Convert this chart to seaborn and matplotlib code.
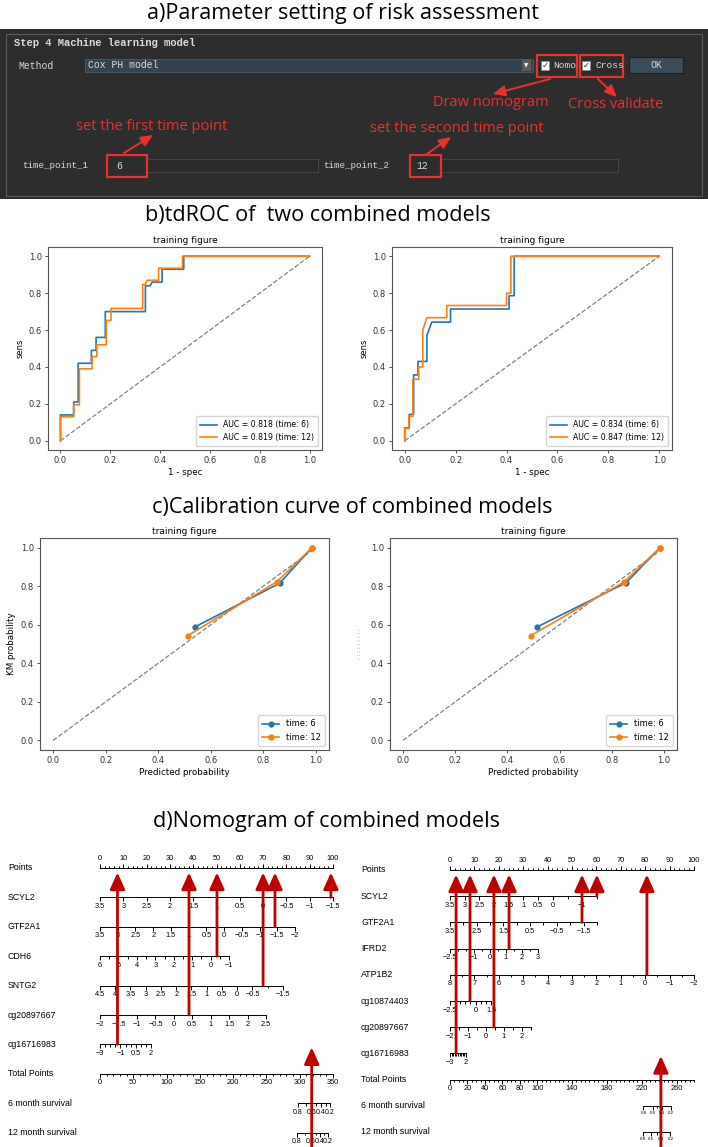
import matplotlib
matplotlib.use("Agg")
import matplotlib.pyplot as plt
from matplotlib.patches import Rectangle
import numpy as np
import seaborn as sns

W, H = 708, 1147
BLUE, ORANGE = "#1f77b4", "#ff7f0e"
RED = "#e8322d"
ARROW_RED = "#c00000"
SANS = "Liberation Sans"
TITLE_FONT = "Open Sans"

# ---------------- b) tdROC curves (read off the picture)
times = [6, 12]
diag = [0, 1]
roc_l_fpr_6 = [0, 0, 0.053, 0.053, 0.071, 0.071, 0.124, 0.124, 0.143, 0.143, 0.18, 0.18,
               0.341, 0.341, 0.36, 0.368, 0.408, 0.408, 0.495, 0.495, 1.0]
roc_l_tpr_6 = [0, 0.14, 0.14, 0.21, 0.21, 0.42, 0.42, 0.49, 0.49, 0.56, 0.56, 0.70,
               0.70, 0.84, 0.84, 0.86, 0.86, 0.93, 0.93, 1.0, 1.0]
roc_l_fpr_12 = [0, 0, 0.053, 0.053, 0.076, 0.076, 0.127, 0.127, 0.146, 0.146, 0.184, 0.184,
                0.203, 0.203, 0.33, 0.33, 0.34, 0.348, 0.394, 0.394, 0.49, 0.49, 1.0]
roc_l_tpr_12 = [0, 0.13, 0.13, 0.195, 0.195, 0.39, 0.39, 0.456, 0.456, 0.52, 0.52, 0.652,
                0.652, 0.717, 0.717, 0.847, 0.847, 0.87, 0.87, 0.935, 0.935, 1.0, 1.0]
roc_r_fpr_6 = [0, 0, 0.018, 0.018, 0.035, 0.035, 0.052, 0.052, 0.087, 0.087, 0.106, 0.18,
               0.18, 0.41, 0.41, 0.43, 0.43, 1.0]
roc_r_tpr_6 = [0, 0.07, 0.07, 0.143, 0.143, 0.357, 0.357, 0.43, 0.43, 0.57, 0.643, 0.643,
               0.714, 0.714, 0.786, 0.786, 1.0, 1.0]
roc_r_fpr_12 = [0, 0, 0.016, 0.016, 0.032, 0.032, 0.055, 0.055, 0.071, 0.071, 0.087, 0.165,
                0.165, 0.40, 0.40, 0.417, 0.417, 1.0]
roc_r_tpr_12 = [0, 0.067, 0.067, 0.133, 0.133, 0.333, 0.333, 0.40, 0.40, 0.60, 0.667, 0.667,
                0.733, 0.733, 0.80, 0.80, 1.0, 1.0]
auc_left = [0.818, 0.819]
auc_right = [0.834, 0.847]

# ---------------- c) calibration points
cal_l_pred_6 = [0.539, 0.862, 0.985]
cal_l_km_6 = [0.588, 0.815, 1.0]
cal_l_pred_12 = [0.513, 0.851, 0.985]
cal_l_km_12 = [0.544, 0.822, 1.0]
cal_r_pred_6 = [0.513, 0.855, 0.985]
cal_r_km_6 = [0.588, 0.818, 1.0]
cal_r_pred_12 = [0.49, 0.845, 0.985]
cal_r_km_12 = [0.544, 0.82, 1.0]

# ---------------- d) nomograms
nl_vars = ["SCYL2", "GTF2A1", "CDH6", "SNTG2", "cg20897667", "cg16716983"]
nl_start = [3.5, 3.5, 6, 4.5, -2, -3]          # value at 0 points
nl_end = [-1.5, -2, -1, -1.5, 2.5, 2]          # value at end of scale
nl_maxpts = [100, 83.7, 55.4, 78.5, 71.3, 21.9]
nl_labels = [[3.5, 3, 2.5, 2, 1.5, 1, 0.5, 0, -0.5, -1, -1.5],
             [3.5, 3, 2.5, 2, 1.5, 1, 0.5, 0, -0.5, -1, -1.5, -2],
             [6, 5, 4, 3, 2, 1, 0, -1],
             [4.5, 4, 3.5, 3, 2.5, 2, 1.5, 1, 0.5, 0, -0.5, -1.5],
             [-2, -1.5, -1, -0.5, 0, 0.5, 1, 1.5, 2, 2.5],
             [-3, -1, 0.5, 2]]
nl_total_max = 350
nl_total_labels = [0, 50, 100, 150, 200, 250, 300, 350]
nl_surv_vals = [0.8, 0.7, 0.6, 0.5, 0.4, 0.3, 0.2]
nl_surv6_at = [297, 309, 318, 325, 332, 339, 345]
nl_surv12_at = [296, 308, 317, 324, 330, 336, 342]
nl_arrow_pts = [7.5, 38.2, 50.2, 70, 75.1, 99.1]
nl_arrow_var = ["cg16716983", "cg20897667", "CDH6", "SNTG2", "GTF2A1", "SCYL2"]
nl_total = 318

nr_vars = ["SCYL2", "GTF2A1", "IFRD2", "ATP1B2", "cg10874403", "cg20897667", "cg16716983"]
nr_start = [3.5, 3.5, -2.5, 8, -2.5, -2, -3]
nr_end = [-1.5, -2, 3, -2, 1.5, 2.5, 2]
nr_maxpts = [60.2, 60.2, 36, 100, 16.8, 33, 6.6]
nr_labels = [[3.5, 3, 2.5, 2, 1.5, 1, 0.5, 0, -1],
             [3.5, 2.5, 1.5, 0.5, -0.5, -1.5],
             [-2.5, -1, 0, 1, 2, 3],
             [8, 7, 6, 5, 4, 3, 2, 1, 0, -1, -2],
             [-2.5, 0, 1.5],
             [-2, -1, 0, 1, 2],
             [-3, 2]]
nr_total_max = 280
nr_total_labels = [0, 20, 40, 60, 80, 100, 140, 180, 220, 260]
nr_surv_vals = [0.8, 0.6, 0.5, 0.4, 0.2]
nr_surv6_at = [222, 233, 238, 243, 254]
nr_surv12_at = [221, 231, 237, 242, 253]
nr_arrow_pts = [2.5, 8.2, 18, 24.2, 54.1, 60.2, 80.7]
nr_arrow_var = ["cg16716983", "cg10874403", "cg20897667", "IFRD2", "GTF2A1", "SCYL2", "ATP1B2"]
nr_total = 242

fig = plt.figure(figsize=(W / 100, H / 100), dpi=100)


def px_axes(x0, y0, x1, y1, **kw):
    return fig.add_axes([x0 / W, 1 - y1 / H, (x1 - x0) / W, (y1 - y0) / H], **kw)


def fmt(v):
    return f"{v:g}".replace("-", "\u2212")


# ---------------- background layer: titles and the GUI screenshot
bg = px_axes(0, 0, W, H, zorder=-5)
bg.set_xlim(0, W)
bg.set_ylim(H, 0)
bg.axis("off")

for x, y, t in [(147, 14, "a)Parameter setting of risk assessment"),
                (145, 216, "b)tdROC of  two combined models"),
                (152, 507, "c)Calibration curve of combined models"),
                (153, 822, "d)Nomogram of combined models")]:
    bg.text(x, y, t, ha="left", va="center", fontsize=15.6, family=TITLE_FONT)

GUI_TXT = "#dcdcdc"
MONO = "Liberation Mono"
bg.add_patch(Rectangle((0, 29), W, 170, fc="#2d2d2d", ec="none"))
bg.add_patch(Rectangle((6, 34), 696, 162, fill=False, ec="#5a5a5a", lw=0.8))
bg.text(14, 43, "Step 4 Machine learning model", fontsize=7.6, family=MONO, color=GUI_TXT,
        va="center", weight="bold")
bg.text(18, 66, "Method", fontsize=7, family=MONO, color=GUI_TXT, va="center")
bg.add_patch(Rectangle((85, 59), 448, 13, fc="#33434f", ec="#4d5d69", lw=0.6))
bg.text(88, 65.5, "Cox PH model", fontsize=7, family=MONO, color=GUI_TXT, va="center")
bg.add_patch(Rectangle((522, 60), 9, 11, fc="#5a5a5a", ec="none"))
bg.text(526.5, 65.5, "\u25bc", fontsize=4, color="white", ha="center", va="center")
for bx, tx, t in [(541, 553, "Nomo"), (582, 595, "Cross")]:
    bg.add_patch(Rectangle((bx, 61), 8, 9, fc="white", ec="#888", lw=0.5))
    bg.text(bx + 4, 65.5, "\u2713", fontsize=6, color="#222", ha="center", va="center")
    bg.text(tx, 65.5, t, fontsize=6.8, family=MONO, color=GUI_TXT, va="center")
bg.add_patch(Rectangle((537, 55), 40, 22, fill=False, ec=RED, lw=1.6))
bg.add_patch(Rectangle((580, 55), 43, 22, fill=False, ec=RED, lw=1.6))
bg.add_patch(Rectangle((629, 57), 54, 16, fc="#3a4b59", ec="#1e1e1e", lw=0.8))
bg.text(656, 65, "OK", fontsize=7, family=MONO, color=GUI_TXT, ha="center", va="center")

# time point fields
bg.text(22, 166, "time_point_1", fontsize=6.6, family=MONO, color=GUI_TXT, va="center")
bg.add_patch(Rectangle((147, 159), 171, 13, fc="#2a2a2a", ec="#4a4a4a", lw=0.6))
bg.text(116, 166, "6", fontsize=7, family=MONO, color=GUI_TXT, va="center")
bg.add_patch(Rectangle((107, 155), 40, 22, fill=False, ec=RED, lw=1.6))
bg.text(323, 166, "time_point_2", fontsize=6.6, family=MONO, color=GUI_TXT, va="center")
bg.add_patch(Rectangle((441, 159), 177, 13, fc="#2a2a2a", ec="#4a4a4a", lw=0.6))
bg.text(416, 166, "12", fontsize=7, family=MONO, color=GUI_TXT, va="center")
bg.add_patch(Rectangle((410, 155), 31, 22, fill=False, ec=RED, lw=1.6))

red_arrow = dict(arrowstyle="-|>,head_length=0.9,head_width=0.4", color=RED, lw=1.4,
                 mutation_scale=8, shrinkA=0, shrinkB=0)
for (x0, y0), (x1, y1) in [((550, 79), (493, 94)), ((598, 79), (617, 97)),
                           ((124, 153), (153, 135)), ((427, 154), (451, 137))]:
    bg.annotate("", xy=(x1, y1), xytext=(x0, y0), arrowprops=red_arrow)
for x, y, t in [(491, 103, "Draw nomogram"), (616, 105, "Cross validate"),
                (152, 127, "set the first time point"), (457, 128, "set the second time point")]:
    bg.text(x, y, t, ha="center", va="center", fontsize=10.5, color=RED, family=TITLE_FONT)


# ---------------- b) and c) matplotlib-style panels
def style_axes(ax):
    ax.set_xticks(np.arange(0, 1.01, 0.2))
    ax.set_yticks(np.arange(0, 1.01, 0.2))
    ax.tick_params(labelsize=6, length=2.5, width=0.6, pad=2, colors="#333")
    for sp in ax.spines.values():
        sp.set_color("#555")
        sp.set_linewidth(0.8)
    ax.set_title("training figure", fontsize=6.5, pad=3)


def draw_roc(ax, curves, aucs):
    ax.plot(diag, diag, ls="--", color="gray", lw=0.9)
    for (fpr, tpr), auc, t, c in zip(curves, aucs, times, [BLUE, ORANGE]):
        sns.lineplot(x=fpr, y=tpr, sort=False, estimator=None, color=c, lw=1.2, ax=ax,
                     label=f"AUC = {auc:.3f} (time: {t})")
    style_axes(ax)
    ax.set_xlabel("1 - spec", fontsize=6.3, labelpad=2)
    ax.set_ylabel("sens", fontsize=6, labelpad=3)
    ax.legend(loc="lower right", fontsize=5.6, handlelength=2.2, borderpad=0.5)


def draw_cal(ax, curves, ylabel):
    ax.plot(diag, diag, ls="--", color="gray", lw=0.9)
    for (p, k), t, c in zip(curves, times, [BLUE, ORANGE]):
        sns.lineplot(x=p, y=k, sort=False, estimator=None, color=c, lw=1.2, marker="o",
                     markersize=4.5, markeredgewidth=0, ax=ax, label=f"time: {t}")
    style_axes(ax)
    ax.set_xlabel("Predicted probability", fontsize=6.3, labelpad=2)
    ax.set_ylabel(ylabel, fontsize=6.3, labelpad=3)
    ax.legend(loc="lower right", fontsize=6, handlelength=2.0, borderpad=0.5)


draw_roc(px_axes(48, 247, 322, 450), [(roc_l_fpr_6, roc_l_tpr_6), (roc_l_fpr_12, roc_l_tpr_12)], auc_left)
draw_roc(px_axes(392, 247, 672, 450), [(roc_r_fpr_6, roc_r_tpr_6), (roc_r_fpr_12, roc_r_tpr_12)], auc_right)
draw_cal(px_axes(40, 538, 329, 750), [(cal_l_pred_6, cal_l_km_6), (cal_l_pred_12, cal_l_km_12)],
         "KM probability")
ax_cr = px_axes(390, 538, 677, 750)
draw_cal(ax_cr, [(cal_r_pred_6, cal_r_km_6), (cal_r_pred_12, cal_r_km_12)], "")
ax_cr.set_ylabel(": : : : : : : : :", fontsize=4, color="#666", labelpad=6)


# ---------------- d) nomograms
def draw_nomogram(ax, s):
    pr = s["px_row"]
    ax.set_xlim(s["xlim"])
    ax.set_ylim(s["ylim"])
    ax.axis("off")
    kw = dict(color="black", lw=0.7)
    names = ["Points"] + s["vars"] + ["Total Points", "6 month survival", "12 month survival"]
    for i, n in enumerate(names):
        ax.text(s["label_x"], i, n, ha="left", va="center", fontsize=6.3, family=SANS)

    # Points scale: ticks pointing up, labels above
    ax.plot([0, 100], [0, 0], **kw)
    ax.vlines(np.arange(0, 101, 2), 0, -2 / pr, **kw)
    ax.vlines(np.arange(0, 101, 10), 0, -4 / pr, **kw)
    for m in range(0, 101, 10):
        ax.text(m, -5.5 / pr, fmt(m), ha="center", va="bottom", fontsize=5.3, family=SANS)

    def scale(row, pts_of, all_vals, lab_vals, fs=5.3):
        pos = [pts_of(v) for v in all_vals]
        ax.plot([min(pos), max(pos)], [row, row], **kw)
        ax.vlines(pos, row, row + 2.5 / pr, **kw)
        ax.vlines([pts_of(v) for v in lab_vals], row, row + 4 / pr, **kw)
        for v in lab_vals:
            ax.text(pts_of(v), row + 5.5 / pr, fmt(v), ha="center", va="top", fontsize=fs,
                    family=SANS)

    for k, (st, en, mp, labs) in enumerate(zip(s["start"], s["end"], s["maxpts"], s["labels"])):
        vals = np.arange(min(st, en), max(st, en) + 1e-9, 0.5)
        scale(k + 1, lambda v, st=st, en=en, mp=mp: (v - st) / (en - st) * mp, vals, labs)

    tr = len(s["vars"]) + 1
    tsc = 100 / s["total_max"]
    scale(tr, lambda v: v * tsc, np.arange(0, s["total_max"] + 1e-9, s["total_step"]),
          s["total_labels"])
    for j, at in enumerate([s["surv6_at"], s["surv12_at"]]):
        lut = dict(zip(s["surv_vals"], at))
        scale(tr + 1 + j, lambda v, lut=lut: lut[v] * tsc, s["surv_vals"], [0.8, 0.6, 0.4, 0.2],
              fs=s["surv_fs"])

    arrow = dict(arrowstyle="-|>,head_length=1.0,head_width=0.45", color=ARROW_RED, lw=2.0,
                 mutation_scale=10, shrinkA=0, shrinkB=0)
    for p, v in zip(s["arrow_pts"], s["arrow_var"]):
        ax.annotate("", xy=(p, 4.5 / pr), xytext=(p, names.index(v)), arrowprops=arrow)
    ax.annotate("", xy=(s["total"] * tsc, tr - 0.9), xytext=(s["total"] * tsc, s["ylim"][0]),
                arrowprops=arrow)


def nomo_spec(x0, x1, zero_px, px_pt, row0_px, px_row, label_px, **kw):
    spec = dict(px_row=px_row,
                xlim=((x0 - zero_px) / px_pt, (x1 - zero_px) / px_pt),
                ylim=((H - row0_px) / px_row, (835 - row0_px) / px_row),
                label_x=(label_px - zero_px) / px_pt)
    spec.update(kw)
    return spec


draw_nomogram(px_axes(0, 835, 354, H),
              nomo_spec(0, 354, 100, 2.33, 868, 29.4, 8,
                        vars=nl_vars, start=nl_start, end=nl_end, maxpts=nl_maxpts,
                        labels=nl_labels, total_max=nl_total_max, total_step=10,
                        total_labels=nl_total_labels, surv_vals=nl_surv_vals,
                        surv6_at=nl_surv6_at, surv12_at=nl_surv12_at, surv_fs=5.0,
                        arrow_pts=nl_arrow_pts, arrow_var=nl_arrow_var, total=nl_total))
draw_nomogram(px_axes(354, 835, W, H),
              nomo_spec(354, W, 450, 2.44, 870, 26.2, 361,
                        vars=nr_vars, start=nr_start, end=nr_end, maxpts=nr_maxpts,
                        labels=nr_labels, total_max=nr_total_max, total_step=5,
                        total_labels=nr_total_labels, surv_vals=nr_surv_vals,
                        surv6_at=nr_surv6_at, surv12_at=nr_surv12_at, surv_fs=3.2,
                        arrow_pts=nr_arrow_pts, arrow_var=nr_arrow_var, total=nr_total))

fig.savefig("out.png", dpi=100)
